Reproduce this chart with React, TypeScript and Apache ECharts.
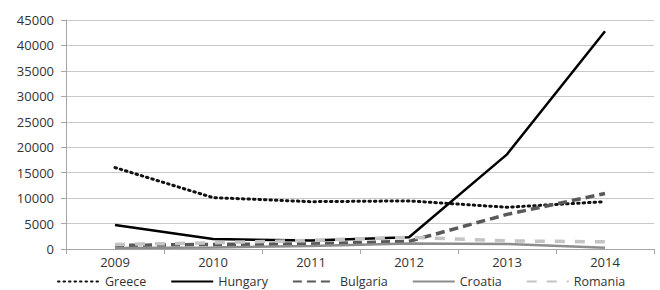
import React, { useEffect, useRef } from "react";
import * as echarts from "echarts";

const years = ["2009", "2010", "2011", "2012", "2013", "2014"];
const greece = [16000, 10100, 9300, 9450, 8200, 9300];
const hungary = [4700, 1950, 1650, 2300, 18600, 42800];
const bulgaria = [700, 900, 1000, 1500, 6800, 10900];
const croatia = [200, 300, 600, 1100, 1000, 250];
const romania = [900, 1200, 1700, 2300, 1600, 1400];

const FONT = "Open Sans";

export default function App() {
  const ref = useRef<HTMLDivElement>(null);
  useEffect(() => {
    if (!ref.current) return;
    const chart = echarts.init(ref.current, undefined, { renderer: "svg" });
    const mk = (name: string, data: number[], color: string, type: any, width: number, cap: any = "butt") => ({
      name,
      type: "line",
      data,
      symbol: "none",
      showSymbol: false,
      lineStyle: { color, type, width, cap },
      itemStyle: { color },
      z: 3,
    });
    chart.setOption({
      animation: false,
      textStyle: { fontFamily: FONT },
      grid: { left: 66, right: 6, top: 20, bottom: 41 },
      legend: {
        bottom: 0,
        left: 52,
        itemWidth: 42,
        itemHeight: 8,
        itemGap: 24,
        padding: [2, 5, 2, 5],
        itemStyle: { opacity: 0 },
        textStyle: { fontFamily: FONT, fontSize: 12.5, color: "#333" },
        data: ["Greece", "Hungary", "Bulgaria", "Croatia", "Romania"],
      },
      xAxis: {
        type: "category",
        data: years,
        boundaryGap: true,
        axisLine: { lineStyle: { color: "#a6a6a6", width: 1 } },
        axisTick: { show: true, length: 5, lineStyle: { color: "#a6a6a6" } },
        axisLabel: { color: "#333", fontSize: 13, margin: 6, fontFamily: FONT },
      },
      yAxis: {
        type: "value",
        min: 0,
        max: 45000,
        interval: 5000,
        axisLine: { show: true, lineStyle: { color: "#a6a6a6" } },
        axisTick: { show: true, length: 5, lineStyle: { color: "#a6a6a6" } },
        splitLine: { lineStyle: { color: "#c8c8c8", width: 1 } },
        axisLabel: {
          color: "#333",
          fontSize: 13,
          margin: 12,
          fontFamily: FONT,
          formatter: (v: number) => String(v),
        },
      },
      series: [
        mk("Greece", greece, "#111", [1.5, 4], 3, "round"),
        mk("Hungary", hungary, "#000", "solid", 2.5),
        mk("Bulgaria", bulgaria, "#595959", [9, 5], 3.5),
        mk("Croatia", croatia, "#8c8c8c", "solid", 2.5),
        mk("Romania", romania, "#c4c4c4", [10, 10], 3.5),
      ],
    });
    return () => chart.dispose();
  }, []);
  return (
    <div
      ref={ref}
      style={{ position: "absolute", left: 0, top: 0, width: 660, height: 290 }}
    />
  );
}
